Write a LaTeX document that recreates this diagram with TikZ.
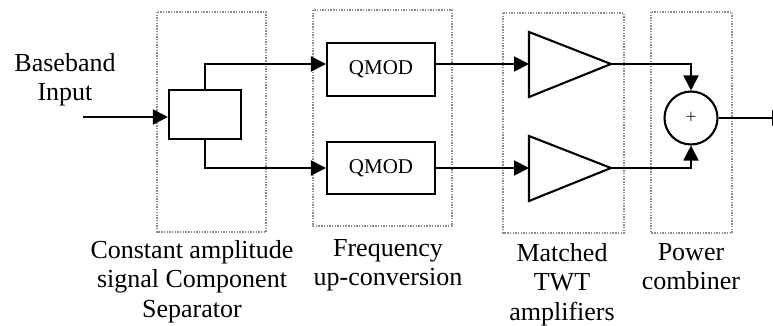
\documentclass[tikz,border=0pt]{standalone}
\usepackage{fontspec}
\setmainfont{Liberation Serif}
\usetikzlibrary{arrows.meta}
\begin{document}
\begin{tikzpicture}[x=1pt,y=-1pt,
  blk/.style={draw=black, line width=2.1pt, rectangle, inner sep=0pt},
  wire/.style={line width=1.9pt},
  arr/.style={wire, -{Triangle[length=15pt,width=15pt]}},
  group/.style={draw=black!45, line width=1.4pt, dash pattern=on 1.4pt off 1.3pt},
  lbl/.style={align=center, inner sep=0pt, anchor=north, font=\fontsize{26}{29.5}\selectfont},
  modtxt/.style={font=\fontsize{21}{24}\selectfont}
]
\useasboundingbox (0,0) rectangle (773,326);

% stage outlines
\draw[group] (157,12) rectangle (266,232);
\draw[group] (313,10) rectangle (452,226);
\draw[group] (503,13) rectangle (624,233);
\draw[group] (651,12) rectangle (732,233);

% separator and modulators
\node[blk, minimum width=72pt, minimum height=49pt] (sep) at (205,114.5) {};
\node[blk, minimum width=108pt, minimum height=53pt, modtxt] (q1) at (381,69.5) {QMOD};
\node[blk, minimum width=108pt, minimum height=52pt, modtxt] (q2) at (381,168) {QMOD};

% amplifiers
\draw[line width=2.1pt, line join=miter] (529,32) -- (529,97) -- (611,64) -- cycle;
\draw[line width=2.1pt, line join=miter] (529,136) -- (529,201) -- (611,168) -- cycle;
\coordinate (a1in) at (529,64);
\coordinate (a1out) at (611,64);
\coordinate (a2in) at (529,168);
\coordinate (a2out) at (611,168);

% combiner
\node[circle, draw=black, line width=2.1pt, minimum size=53pt, inner sep=0pt,
      font=\fontsize{20}{22}\selectfont, text=black!80] (sum) at (691,118) {+};

% input and output
\coordinate (in) at (83,117);
\coordinate (out) at (787,118);
\coordinate (rt) at (205,64);
\coordinate (rb) at (205,168);

% connections
\draw[arr] (in) -- (in -| sep.west);
\draw[arr] (sep.north) -- (rt) -- (q1.west |- rt);
\draw[arr] (sep.south) -- (rb) -- (q2.west |- rb);
\draw[arr] (q1.east |- a1in) -- (a1in);
\draw[arr] (q2.east |- a2in) -- (a2in);
\draw[arr] (a1out) -| (sum.north);
\draw[arr] (a2out) -| (sum.south);
\draw[arr] (sum.east) -- (out);

% labels
\node[lbl] (inlbl) at (65,53) {Baseband\\Input};
\node[lbl] (seplbl) at (192,240) {Constant amplitude\\signal Component\\Separator};
\node[lbl] (freqlbl) at (388,239) {Frequency\\up-conversion};
\node[lbl] (amplbl) at (562,243) {Matched\\TWT\\amplifiers};
\node[lbl] (comblbl) at (691,243) {Power\\combiner};
\end{tikzpicture}
\end{document}
